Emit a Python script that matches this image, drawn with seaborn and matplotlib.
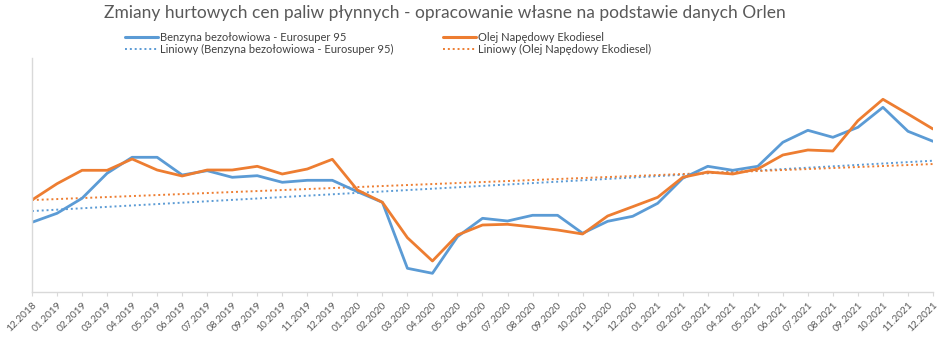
import numpy as np
import pandas as pd
import matplotlib
matplotlib.use("Agg")
import matplotlib.pyplot as plt
import seaborn as sns
from matplotlib.lines import Line2D

months = ["12.2018",
          "01.2019", "02.2019", "03.2019", "04.2019", "05.2019", "06.2019",
          "07.2019", "08.2019", "09.2019", "10.2019", "11.2019", "12.2019",
          "01.2020", "02.2020", "03.2020", "04.2020", "05.2020", "06.2020",
          "07.2020", "08.2020", "09.2020", "10.2020", "11.2020", "12.2020",
          "01.2021", "02.2021", "03.2021", "04.2021", "05.2021", "06.2021",
          "07.2021", "08.2021", "09.2021", "10.2021", "11.2021", "12.2021"]

benzyna = [77.7, 86.7, 101.7, 126.7, 142.7, 142.7, 125.0, 129.3, 122.7, 124.3,
           117.7, 119.7, 119.7, 108.3, 97.7, 31.7, 26.7, 63.3, 81.7, 79.0,
           84.7, 84.7, 66.7, 78.7, 83.7, 96.7, 121.7, 133.7, 129.7, 133.7,
           157.7, 169.7, 162.7, 172.7, 192.7, 168.7, 158.7]

diesel = [100.0, 116.3, 129.7, 129.7, 141.0, 130.0, 124.0, 130.0, 130.0, 133.7,
          126.0, 131.0, 140.7, 110.0, 97.7, 62.3, 39.0, 65.0, 75.0, 75.7,
          73.0, 70.0, 66.0, 84.0, 93.3, 102.7, 122.7, 128.0, 126.0, 131.0,
          145.0, 150.0, 149.0, 179.3, 200.7, 186.0, 171.0]

name_b = "Benzyna bezołowiowa - Eurosuper 95"
name_d = "Olej Napędowy Ekodiesel"
blue = "#5B9BD5"
orange = "#ED7D31"

sns.set_style("white")
plt.rcParams['font.family'] = ['Lato', 'DejaVu Sans']

idx = np.arange(len(months))
df = pd.DataFrame({"i": idx, "b": benzyna, "d": diesel})
df["tb"] = np.polyval(np.polyfit(idx, benzyna, 1), idx)
df["td"] = np.polyval(np.polyfit(idx, diesel, 1), idx)

fig = plt.figure(figsize=(9.45, 3.37), dpi=100)
ax = fig.add_axes([32/945, 1-292/337, (933-32)/945, (292-58)/337])

dot = (0, (1, 1.5))
sns.lineplot(data=df, x="i", y="tb", ax=ax, color=blue, lw=1.4, linestyle=dot)
sns.lineplot(data=df, x="i", y="td", ax=ax, color=orange, lw=1.4, linestyle=dot)
sns.lineplot(data=df, x="i", y="b", ax=ax, color=blue, lw=2.0)
sns.lineplot(data=df, x="i", y="d", ax=ax, color=orange, lw=2.0)

ax.set_xlim(0, len(months) - 1)
ax.set_ylim(8, 242)
ax.set_xticks(idx)
ax.set_xticklabels(months, rotation=45, ha="right", rotation_mode="anchor",
                   fontsize=7.3, color="#595959")
ax.set_yticks([])
ax.set_xlabel("")
ax.set_ylabel("")
for s in ["top", "right"]:
    ax.spines[s].set_visible(False)
for s in ["left", "bottom"]:
    ax.spines[s].set_color("#d9d9d9")
    ax.spines[s].set_linewidth(1.0)
ax.tick_params(axis="x", length=3, color="#d9d9d9", pad=3, bottom=True)

fig.text(445/945, 1-13/337,
         "Zmiany hurtowych cen paliw płynnych - opracowanie własne na podstawie danych Orlen",
         ha="center", va="center", fontsize=12.5, color="#595959")

h1 = [Line2D([], [], color=blue, lw=2.2),
      Line2D([], [], color=blue, lw=1.4, linestyle=dot)]
h2 = [Line2D([], [], color=orange, lw=2.2),
      Line2D([], [], color=orange, lw=1.4, linestyle=dot)]
kw = dict(frameon=False, fontsize=8, handlelength=3.0, handletextpad=0.15,
          labelspacing=0.12, labelcolor="#404040", borderaxespad=0, borderpad=0)
fig.legend(h1, [name_b, "Liniowy (" + name_b + ")"], loc="upper left",
           bbox_to_anchor=(125/945, 1-32/337), **kw)
fig.legend(h2, [name_d, "Liniowy (" + name_d + ")"], loc="upper left",
           bbox_to_anchor=(443/945, 1-32/337), **kw)

fig.savefig("out.png", dpi=100)
